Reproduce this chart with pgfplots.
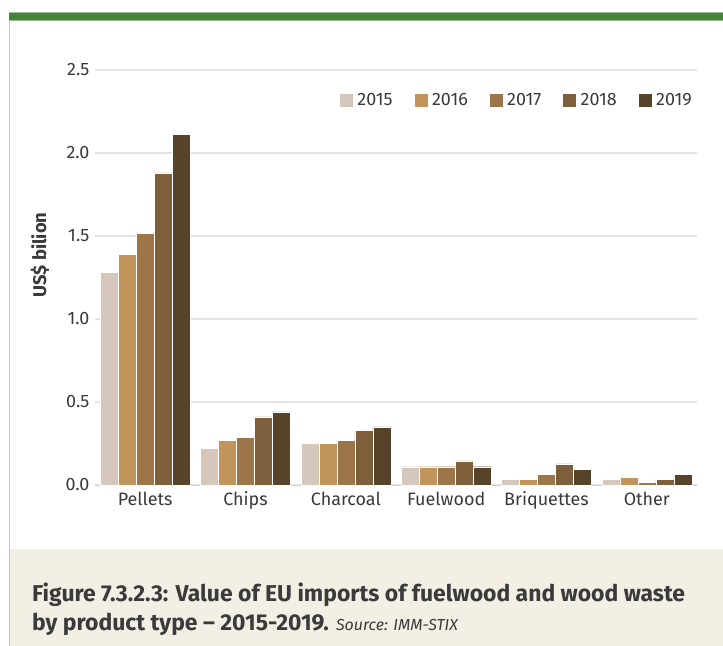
\documentclass[border=0pt]{standalone}
\usepackage{fontspec}
\setmainfont{Fira Sans}
\usepackage{pgfplots}
\pgfplotsset{compat=1.18}

\definecolor{cA}{HTML}{D5C7BC}
\definecolor{cB}{HTML}{C1945B}
\definecolor{cC}{HTML}{9C7548}
\definecolor{cD}{HTML}{7E5F3C}
\definecolor{cE}{HTML}{56432A}
\definecolor{txt}{HTML}{3A3A3A}
\definecolor{gridc}{HTML}{E4E4E4}
\definecolor{barg}{HTML}{46823A}
\definecolor{capbg}{HTML}{F3EFE4}
\definecolor{edge}{HTML}{CFCB9A}

\begin{document}
\begin{tikzpicture}
\useasboundingbox (0bp,0bp) rectangle (723bp,-646bp);
\fill[white] (0bp,0bp) rectangle (723bp,-646bp);
% top green band and left border
\fill[barg] (9bp,-12bp) rectangle (723bp,-21bp);
\draw[barg!55!white,line width=0.8bp] (9bp,-12.4bp) -- (723bp,-12.4bp);
\draw[barg!55!white,line width=0.8bp] (9bp,-20.6bp) -- (723bp,-20.6bp);
\fill[capbg] (9.5bp,-549bp) rectangle (723bp,-646bp);
\draw[edge,line width=1.2bp] (9.5bp,-21bp) -- (9.5bp,-646bp);

\begin{axis}[
    at={(95bp,-485bp)}, anchor=south west,
    scale only axis, width=602bp, height=415bp,
    xmin=-0.5, xmax=5.5, ymin=0, ymax=2.5,
    ybar=0pt, bar width=18bp,
    axis x line*=bottom, axis y line*=left,
    y axis line style={draw=none},
    x axis line style={gridc!80!gray, line width=1bp},
    xtick={0,1,2,3,4,5},
    xticklabels={Pellets,Chips,Charcoal,Fuelwood,Briquettes,Other},
    x tick style={draw=none},
    extra x ticks={-0.5,0.5,1.5,2.5,3.5,4.5,5.5},
    extra x tick labels={},
    extra x tick style={tick style={gridc!70!gray, line width=1bp}, major tick length=6bp, tick align=inside, grid=none},
    ytick={0,0.5,1,1.5,2,2.5},
    yticklabels={0.0,0.5,1.0,1.5,2.0,2.5},
    y tick style={draw=none},
    ymajorgrids, grid style={gridc, line width=1.2bp},
    tick label style={font=\fontsize{18}{20}\selectfont, text=txt},
    yticklabel style={xshift=-2bp},
    xticklabel style={yshift=1bp},
    legend columns=5,
    legend style={at={(1,0.928)}, anchor=east, draw=none, fill=white,
        font=\fontsize{18}{20}\selectfont, text=txt,
        /tikz/every odd column/.append style={column sep=2bp},
        /tikz/every even column/.append style={column sep=19bp}},
    legend image code/.code={\fill[#1] (0bp,-7bp) rectangle (14bp,7bp);},
    every axis plot/.append style={draw=white, line width=0.4bp},
]
\addplot[fill=cA] coordinates {(0,1.28) (1,0.22) (2,0.253) (3,0.11) (4,0.034) (5,0.034)};
\addplot[fill=cB] coordinates {(0,1.39) (1,0.27) (2,0.253) (3,0.11) (4,0.034) (5,0.048)};
\addplot[fill=cC] coordinates {(0,1.515) (1,0.285) (2,0.27) (3,0.11) (4,0.065) (5,0.016)};
\addplot[fill=cD] coordinates {(0,1.88) (1,0.41) (2,0.33) (3,0.145) (4,0.127) (5,0.034)};
\addplot[fill=cE] coordinates {(0,2.114) (1,0.44) (2,0.35) (3,0.11) (4,0.095) (5,0.065)};
\legend{2015,2016,2017,2018,2019}
\end{axis}

\node[rotate=90, text=txt, font=\fontsize{18.5}{20}\selectfont\bfseries] at (40bp,-255bp) {US\$ bilion};

\node[anchor=base west, text=txt, font=\fontsize{23}{25}\selectfont\bfseries, inner sep=0pt] at (32bp,-601bp)
  {Figure 7.3.2.3: Value of EU imports of fuelwood and wood waste};
\node[anchor=base west, text=txt, font=\fontsize{23}{25}\selectfont\bfseries, inner sep=0pt] at (32bp,-630bp)
  {by product type -- 2015-2019. {\mdseries\itshape\fontsize{16}{18}\selectfont Source: IMM-STIX}};
\end{tikzpicture}
\end{document}
